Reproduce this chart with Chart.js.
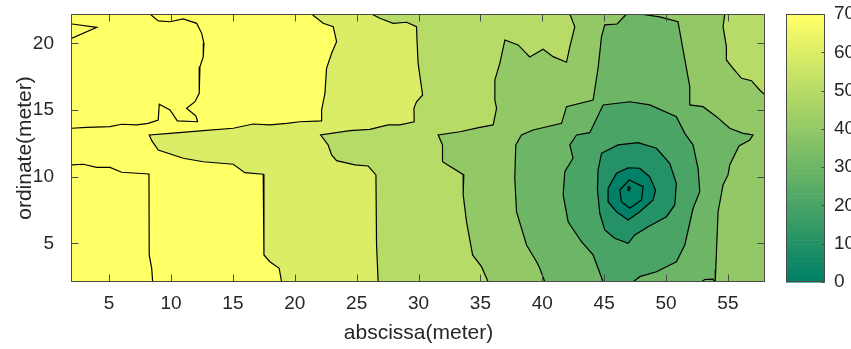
<!DOCTYPE html>
<html><head><meta charset="utf-8">
<script src="https://cdn.jsdelivr.net/npm/chart.js@4.4.1/dist/chart.umd.min.js"></script>
<style>html,body{margin:0;padding:0;background:#fff;}canvas{display:block;}</style>
</head><body>
<canvas id="c" width="851" height="349"></canvas>
<script>
// ---- axes / ticks ----
const xRange = [2, 58];
const yRange = [2.1, 22.2];
const cRange = [0, 70];
const xTicks = [5, 10, 15, 20, 25, 30, 35, 40, 45, 50, 55];
const yTicks = [5, 10, 15, 20];
const cTicks = [0, 10, 20, 30, 40, 50, 60, 70];

// ---- contour lines, [abscissa, ordinate] in meters ----
const lineWedge = [[2,21.45],[4.0,21.2],[2,20.38]];
const line80a = [[8.30,22.2],[8.97,21.68],[9.92,21.62],[10.99,21.83],[12.07,21.50],[12.48,20.75],[12.66,20.0],[12.61,19.0],[12.34,18.25],[12.28,16.25],[11.94,15.62],[11.26,15.13],[12.02,14.55],[12.15,14.12],[10.51,14.18],[9.92,15.0],[9.05,15.43],[8.97,14.25],[8.16,14.0],[7.23,13.88],[6.01,13.93],[5.07,13.75],[3.19,13.70],[2,13.63]];
const line80b = [[2,10.88],[2.91,10.93],[4.0,10.70],[5.07,10.70],[6.01,10.33],[8.22,10.2],[8.24,4.13],[8.44,3.13],[8.52,2.1]];
const line70 = [[21.36,22.2],[22.30,21.50],[23.11,21.25],[23.38,20.12],[22.98,19.25],[22.57,18.13],[22.44,16.25],[22.17,15.0],[22.17,14.18],[20.42,14.12],[19.34,14.0],[17.99,13.88],[16.64,13.95],[15.03,13.63],[12.61,13.45],[9.92,13.25],[8.24,13.13],[8.46,12.68],[8.97,12.0],[10.99,11.38],[12.61,11.12],[15.03,10.93],[15.97,10.3],[17.45,10.18],[17.51,4.13],[17.99,3.62],[18.74,3.13],[18.94,2.1]];
const line60 = [[26.21,22.2],[26.88,21.88],[27.95,21.5],[29.04,21.58],[29.84,21.25],[29.89,20.0],[29.97,18.5],[30.33,16.13],[29.84,15.62],[29.63,15.13],[29.65,14.12],[28.49,13.88],[27.55,13.88],[26.07,13.55],[24.46,13.45],[22.09,13.13],[22.70,12.38],[22.98,11.63],[23.38,11.2],[24.86,10.88],[25.93,10.8],[26.56,10.13],[26.61,4.88],[26.74,2.1]];
const line50a = [[42.23,22.2],[42.63,21.25],[42.23,19.75],[41.96,18.58],[40.88,19.0],[40.07,19.55],[38.99,18.98],[38.05,19.88],[36.98,20.25],[36.57,18.5],[36.17,17.25],[36.17,15.75],[36.31,15.13],[36.03,13.88],[34.96,13.7],[33.34,13.37],[31.59,13.13],[31.94,12.38],[31.94,11.12],[33.66,10.13],[33.61,8.63],[33.88,6.62],[34.37,4.13],[35.09,3.25],[35.63,2.1]];
const line50b = [[54.75,22.2],[54.61,21.25],[54.88,19.75],[54.88,18.75],[55.42,18.13],[56.10,17.38],[56.90,17.2],[57.57,16.5],[58,16.13]];
const line40a = [[40.21,2.1],[39.80,3.13],[39.54,3.62],[38.73,4.88],[37.92,7.37],[37.78,9.88],[37.86,12.38],[38.32,13.13],[39.26,13.5],[41.56,14.0],[41.96,15.25],[44.11,15.75],[44.51,18.13],[44.79,20.5],[45.05,21.38],[46.05,21.45],[46.81,22.2]];
const line40b = [[47.88,22.2],[49.5,21.98],[50.97,21.62],[51.38,19.5],[51.92,16.75],[51.92,15.38],[52.99,15.25],[54.08,14.5],[55.15,13.63],[56.23,13.25],[57.03,13.13],[56.77,12.75],[55.9,12.3],[55.15,10.88],[55.01,10.13],[54.61,9.38],[54.21,7.37],[54.1,4.88],[54.02,3.0],[53.98,2.1]];
const line40c = [[52.86,2.1],[53.13,2.29],[53.78,2.32],[53.98,2.1]];
const line30 = [[44.92,2.1],[44.11,4.13],[43.17,5.12],[42.09,6.62],[41.69,8.63],[41.82,10.37],[42.49,11.38],[42.23,12.38],[42.77,13.13],[43.84,13.3],[44.92,15.38],[47.07,15.62],[48.69,15.38],[50.84,14.5],[51.52,13.25],[52.19,12.38],[52.59,10.63],[52.73,8.87],[52.19,7.63],[51.52,4.88],[50.84,3.62],[49.23,2.87],[47.88,2.5],[47.34,2.1]];
const line20 = [[44.79,11.75],[46.13,12.38],[47.74,12.55],[49.23,12.13],[50.30,11.0],[50.84,9.5],[50.71,7.88],[50.04,7.0],[48.55,6.25],[47.48,5.63],[46.94,5.0],[45.86,5.38],[45.05,6.0],[44.65,7.25],[44.46,9.0],[44.51,10.5],[44.79,11.75]];
const line10 = [[45.32,9.13],[46.0,10.25],[46.94,10.67],[47.88,10.63],[48.69,10.0],[49.15,9.0],[48.96,8.25],[47.88,7.37],[46.94,6.75],[46.0,7.37],[45.32,8.12],[45.32,9.13]];
const line0 = [[46.27,9.0],[47.02,9.75],[48.15,9.25],[48.02,8.25],[47.07,7.63],[46.4,8.12],[46.27,9.0]];
const lineDot = [[46.95,9.25],[47.07,9.22],[47.08,9.08],[47.0,8.95],[46.93,9.08],[46.95,9.25]];

// band value filled on the far side of each contour (background band = 70)
const backgroundBand = 70;
const bandValues = [60, 50, 40, 50, 30, 20, 10, 0];

const allLines = [lineWedge, line80a, line80b, line70, line60, line50a, line50b, line40a, line40b, line40c, line30, line20, line10, line0, lineDot];

// MATLAB "summer" colormap
function summer(v) {
  const r = Math.max(0, Math.min(1, (v - cRange[0]) / (cRange[1] - cRange[0])));
  return 'rgb(' + Math.round(255 * r) + ',' + Math.round(255 * (0.5 + r / 2)) + ',102)';
}

const TR = [xRange[1], yRange[1]], BR = [xRange[1], yRange[0]];
const regions = [
  { pts: line70, close: [BR, TR], v: bandValues[0] },
  { pts: line60, close: [BR, TR], v: bandValues[1] },
  { pts: line50a, close: [BR, TR], v: bandValues[2] },
  { pts: line50b, close: [TR], v: bandValues[3] },
  { pts: line40a.concat(line40b), close: [], v: bandValues[4] },
  { pts: line30, close: [], v: bandValues[5] },
  { pts: line20, close: [], v: bandValues[6] },
  { pts: line10, close: [], v: bandValues[7] }
];

const FONT = 'Liberation Sans, Arial, sans-serif';
const TXT = '#262626';

const contourPlugin = {
  id: 'contourPlugin',
  beforeDatasetsDraw(chart) {
    const { ctx, chartArea: a, scales: { x, y } } = chart;
    ctx.save();
    ctx.beginPath();
    ctx.rect(a.left, a.top, a.right - a.left, a.bottom - a.top);
    ctx.clip();
    ctx.fillStyle = summer(backgroundBand);
    ctx.fillRect(a.left, a.top, a.right - a.left, a.bottom - a.top);
    for (const r of regions) {
      ctx.beginPath();
      r.pts.concat(r.close).forEach(([vx, vy], i) => {
        const px = x.getPixelForValue(vx), py = y.getPixelForValue(vy);
        if (i) ctx.lineTo(px, py); else ctx.moveTo(px, py);
      });
      ctx.closePath();
      ctx.fillStyle = summer(r.v);
      ctx.fill();
    }
    ctx.restore();
  },
  afterDatasetsDraw(chart) {
    const { ctx, chartArea: a, scales: { x, y } } = chart;
    ctx.save();
    ctx.strokeStyle = '#4a4a4a';
    ctx.lineWidth = 1;
    const L = Math.round(a.left) - 0.5, R = Math.round(a.right) - 0.5;
    const T = Math.round(a.top) + 0.5, B = Math.round(a.bottom) - 0.5;
    ctx.strokeRect(L, T, R - L, B - T);
    const tl = 7;
    ctx.beginPath();
    xTicks.forEach(v => {
      const px = Math.round(x.getPixelForValue(v)) + 0.5;
      ctx.moveTo(px, B); ctx.lineTo(px, B - tl);
      ctx.moveTo(px, T); ctx.lineTo(px, T + tl);
    });
    yTicks.forEach(v => {
      const py = Math.round(y.getPixelForValue(v)) + 0.5;
      ctx.moveTo(L, py); ctx.lineTo(L + tl, py);
      ctx.moveTo(R, py); ctx.lineTo(R - tl, py);
    });
    ctx.stroke();
    ctx.restore();
  },
  afterDraw(chart) {
    const { ctx } = chart;
    const cb = chart.scales.cb;
    const x0 = 786, x1 = 825;
    ctx.save();
    const n = 64;
    for (let i = 0; i < n; i++) {
      const v0 = cRange[0] + (cRange[1] - cRange[0]) * i / n;
      const v1 = cRange[0] + (cRange[1] - cRange[0]) * (i + 1) / n;
      const p0 = cb.getPixelForValue(v0), p1 = cb.getPixelForValue(v1);
      ctx.fillStyle = summer(cRange[0] + (cRange[1] - cRange[0]) * i / (n - 1));
      ctx.fillRect(x0, p1, x1 - x0, p0 - p1 + 0.6);
    }
    ctx.strokeStyle = '#4a4a4a';
    ctx.lineWidth = 1;
    const T = Math.round(cb.top) + 0.5, B = Math.round(cb.bottom) - 0.5;
    ctx.strokeRect(x0 + 0.5, T, x1 - x0 - 1, B - T);
    ctx.beginPath();
    cTicks.forEach(v => {
      const py = Math.round(cb.getPixelForValue(v)) + 0.5;
      ctx.moveTo(x1 - 0.5, py); ctx.lineTo(x1 - 3.5, py);
    });
    ctx.stroke();
    ctx.restore();
  }
};

const datasets = allLines.map(arr => ({
  data: arr.map(([vx, vy]) => ({ x: vx, y: vy })),
  showLine: true,
  borderColor: '#000',
  borderWidth: 1.2,
  pointRadius: 0,
  fill: false,
  tension: 0
}));

const tickFont = { family: FONT, size: 19 };
const titleFont = { family: FONT, size: 21 };
function noPad(s) { s.paddingTop = 0; s.paddingBottom = 0; s.paddingLeft = 0; s.paddingRight = 0; }

new Chart(document.getElementById('c'), {
  type: 'scatter',
  data: { datasets },
  options: {
    responsive: false,
    devicePixelRatio: 1,
    animation: false,
    layout: { padding: { top: 14, left: 0, right: 0, bottom: 0 } },
    plugins: { legend: { display: false }, tooltip: { enabled: false } },
    scales: {
      x: {
        type: 'linear', position: 'bottom', min: xRange[0], max: xRange[1],
        afterBuildTicks: s => { s.ticks = xTicks.map(v => ({ value: v })); },
        afterFit: s => { s.height = 67; noPad(s); },
        grid: { display: false }, border: { display: false },
        ticks: { font: tickFont, color: TXT, padding: 2, maxRotation: 0, autoSkip: false },
        title: { display: true, text: 'abscissa(meter)', font: titleFont, color: TXT, padding: { top: 0, bottom: 3 } }
      },
      y: {
        type: 'linear', position: 'left', min: yRange[0], max: yRange[1],
        afterBuildTicks: s => { s.ticks = yTicks.map(v => ({ value: v })); },
        afterFit: s => { s.width = 72; noPad(s); },
        grid: { display: false }, border: { display: false },
        ticks: { font: tickFont, color: TXT, padding: 10, autoSkip: false },
        title: { display: true, text: 'ordinate(meter)', font: titleFont, color: TXT, padding: { top: 12.4, bottom: 0 } }
      },
      cb: {
        type: 'linear', position: 'right', min: cRange[0], max: cRange[1],
        afterBuildTicks: s => { s.ticks = cTicks.map(v => ({ value: v })); },
        afterFit: s => { s.width = 86; noPad(s); },
        grid: { display: false }, border: { display: false },
        ticks: { font: tickFont, color: TXT, padding: 61, autoSkip: false }
      }
    }
  },
  plugins: [contourPlugin]
});
</script>
</body></html>
